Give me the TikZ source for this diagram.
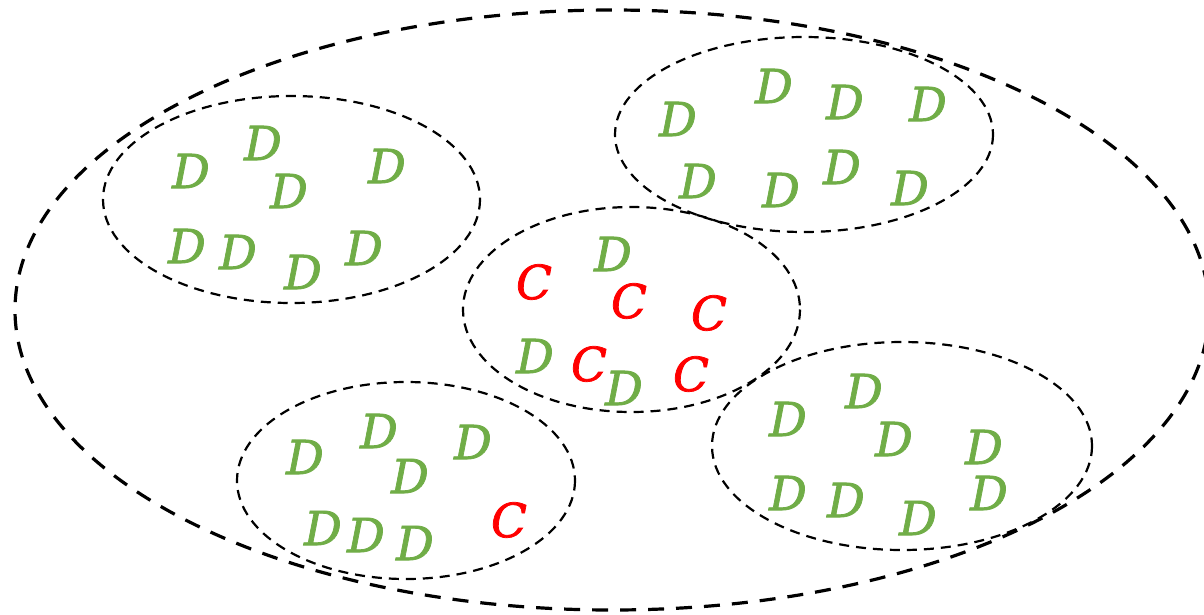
\documentclass[tikz,border=0pt]{standalone}
\usepackage{fontspec}
\newfontfamily\letterfont[ItalicFeatures={FakeBold=1.6}]{DejaVu Serif}
\definecolor{dgreen}{HTML}{70AD47}
\definecolor{cred}{HTML}{FF0000}
\begin{document}
\begin{tikzpicture}[x=1pt,y=-1pt,
  bigring/.style={draw=black,line width=3.2pt,dash pattern=on 16pt off 12pt},
  smallring/.style={draw=black,line width=2.2pt,dash pattern=on 10pt off 7pt},
  dl/.style={inner sep=0pt,text=dgreen,font=\letterfont\itshape\fontsize{47}{50}\selectfont},
  cl/.style={inner sep=0pt,text=cred,font=\letterfont\itshape\fontsize{47}{50}\selectfont}]
\useasboundingbox (0,0) rectangle (1204,614);
% outer ellipse
\draw[bigring] (612,310) ellipse [x radius=597, y radius=300];
% inner ellipses
\draw[smallring] (291.5,199.5) ellipse [x radius=188.5, y radius=103.5];
\draw[smallring] (804,134.5) ellipse [x radius=189, y radius=97.5];
\draw[smallring] (631.5,309.5) ellipse [x radius=168.5, y radius=102.5];
\draw[smallring] (406,480.5) ellipse [x radius=169, y radius=98.5];
\draw[smallring] (902,446) ellipse [x radius=190, y radius=104];
% top-left group
\node[dl] (a1) at (191,171) {D};
\node[dl] (a2) at (263,143) {D};
\node[dl] (a3) at (289,191) {D};
\node[dl] (a4) at (387,166) {D};
\node[dl] (a5) at (187,246) {D};
\node[dl] (a6) at (238,252) {D};
\node[dl] (a7) at (303,272) {D};
\node[dl] (a8) at (364,248) {D};
% top-right group
\node[dl] (b1) at (678,119) {D};
\node[dl] (b2) at (774,86) {D};
\node[dl] (b3) at (845,102) {D};
\node[dl] (b4) at (928,104) {D};
\node[dl] (b5) at (698,181) {D};
\node[dl] (b6) at (781,190) {D};
\node[dl] (b7) at (842,167) {D};
\node[dl] (b8) at (910,188) {D};
% centre group
\node[cl] (c1) at (534,282) {C};
\node[dl] (c2) at (613,254) {D};
\node[cl] (c3) at (629,301) {C};
\node[cl] (c4) at (709,313) {C};
\node[dl] (c5) at (535,356) {D};
\node[cl] (c6) at (589,364) {C};
\node[dl] (c7) at (624,388) {D};
\node[cl] (c8) at (691,374) {C};
% bottom-left group
\node[dl] (d1) at (305,457) {D};
\node[dl] (d2) at (379,431) {D};
\node[dl] (d3) at (410,476) {D};
\node[dl] (d4) at (473,442) {D};
\node[dl] (d5) at (323,528) {D};
\node[dl] (d6) at (366,535) {D};
\node[dl] (d7) at (415,543) {D};
\node[cl] (d8) at (509,520) {C};
% bottom-right group
\node[dl] (e1) at (788,419) {D};
\node[dl] (e2) at (864,391) {D};
\node[dl] (e3) at (894,439) {D};
\node[dl] (e4) at (984,447) {D};
\node[dl] (e5) at (788,493) {D};
\node[dl] (e6) at (846,500) {D};
\node[dl] (e7) at (918,518) {D};
\node[dl] (e8) at (989,493) {D};
\end{tikzpicture}
\end{document}
